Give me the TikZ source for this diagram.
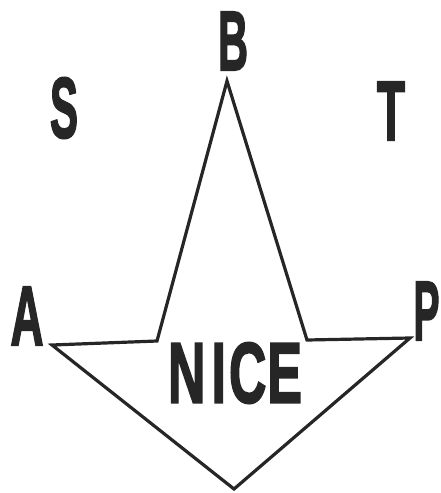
\documentclass[tikz,border=0pt]{standalone}
\usepackage{fontspec}
\newfontfamily\labfont{Liberation Sans}[UprightFont={* Bold},FakeBold=2.5]
\usepackage{graphicx}
\definecolor{ink}{HTML}{262626}
\newcommand{\capbox}[3]{\resizebox{#1pt}{#2pt}{\labfont\bfseries #3}}
\begin{document}
\begin{tikzpicture}[x=1pt,y=-1pt,
  lab/.style={inner sep=0pt,outer sep=0pt,text=ink,anchor=center},
  outline/.style={draw=ink,line width=3.2pt,line join=miter}]
\useasboundingbox (0,0) rectangle (440,493);
% shape vertices
\coordinate (lt) at (52,345);
\coordinate (li) at (157,341);
\coordinate (top) at (227,81);
\coordinate (ri) at (307,340);
\coordinate (rt) at (410,338);
\coordinate (bot) at (234,489);
\draw[outline] (lt) -- (li) -- (top) -- (ri) -- (rt) -- (bot) -- cycle;
% labels
\node[lab] (B) at (233,41) {\capbox{30}{58}{B}};
\node[lab] (S) at (64,108) {\capbox{28}{60}{S}};
\node[lab] (T) at (391,111) {\capbox{28}{58}{T}};
\node[lab] (A) at (27,316) {\capbox{33}{58}{A}};
\node[lab] (P) at (426.5,311) {\capbox{26}{58}{P}};
\node[lab] (nice) at (235,373) {\capbox{134}{60}{N\kern0.12em I\kern0.06em C\kern0.02em E}};
\end{tikzpicture}
\end{document}
